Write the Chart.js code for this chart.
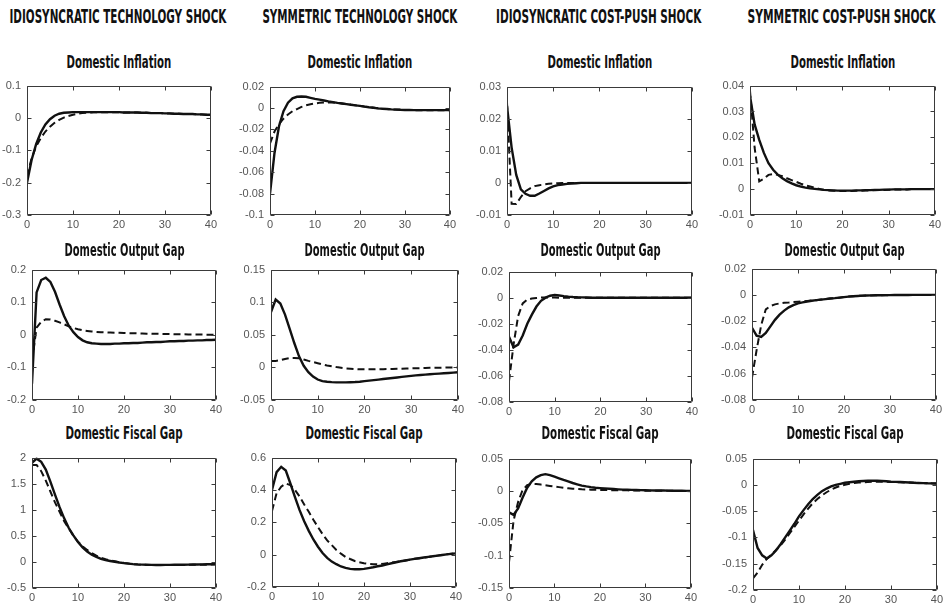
<!DOCTYPE html>
<html><head><meta charset="utf-8">
<script src="https://cdn.jsdelivr.net/npm/chart.js@4.4.1/dist/chart.umd.min.js"></script>
<style>
html,body{margin:0;padding:0;background:#fff;}
body{width:945px;height:606px;position:relative;overflow:hidden;}
.hdr,.ttl{position:absolute;white-space:nowrap;font-family:"DejaVu Sans Condensed","DejaVu Sans";font-weight:bold;color:#111;transform-origin:center center;line-height:1;}
.hdr{font-size:20px;}
.ttl{font-size:17px;}
.cv{position:absolute;}
</style></head><body>
<script>
// ---------- DATA ----------
const periods = [0,1,2,3,4,5,6,7,8,9,10,11,12,13,14,15,16,17,18,19,20,21,22,23,24,25,26,27,28,29,30,31,32,33,34,35,36,37,38,39,40];
const columnTitles = ['IDIOSYNCRATIC TECHNOLOGY SHOCK','SYMMETRIC TECHNOLOGY SHOCK','IDIOSYNCRATIC COST-PUSH SHOCK','SYMMETRIC COST-PUSH SHOCK'];
const rowTitles = ['Domestic Inflation','Domestic Output Gap','Domestic Fiscal Gap'];
const xTicks = [0,10,20,30,40];

// y tick labels per panel
const yTicksInflIdioTech = [-0.3,-0.2,-0.1,0,0.1];
const yTicksInflSymTech  = [-0.1,-0.08,-0.06,-0.04,-0.02,0,0.02];
const yTicksInflIdioCP   = [-0.01,0,0.01,0.02,0.03];
const yTicksInflSymCP    = [-0.01,0,0.01,0.02,0.03,0.04];
const yTicksGapIdioTech  = [-0.2,-0.1,0,0.1,0.2];
const yTicksGapSymTech   = [-0.05,0,0.05,0.1,0.15];
const yTicksGapIdioCP    = [-0.08,-0.06,-0.04,-0.02,0,0.02];
const yTicksGapSymCP     = [-0.08,-0.06,-0.04,-0.02,0,0.02];
const yTicksFisIdioTech  = [-0.5,0,0.5,1,1.5,2];
const yTicksFisSymTech   = [-0.2,0,0.2,0.4,0.6];
const yTicksFisIdioCP    = [-0.15,-0.1,-0.05,0,0.05];
const yTicksFisSymCP     = [-0.2,-0.15,-0.1,-0.05,0,0.05];

// Domestic inflation
const inflIdioTechSolid  = [-0.20,-0.13,-0.08,-0.045,-0.02,-0.004,0.007,0.013,0.016,0.017,0.018,0.018,0.018,0.018,0.018,0.018,0.018,0.018,0.018,0.018,0.018,0.017,0.017,0.017,0.017,0.016,0.016,0.015,0.015,0.015,0.014,0.014,0.013,0.013,0.012,0.012,0.012,0.011,0.011,0.010,0.010];
const inflIdioTechDashed = [-0.18,-0.125,-0.088,-0.062,-0.042,-0.027,-0.015,-0.006,0.001,0.006,0.010,0.013,0.015,0.016,0.017,0.018,0.018,0.018,0.018,0.018,0.018,0.017,0.017,0.017,0.017,0.016,0.016,0.015,0.015,0.015,0.014,0.014,0.013,0.013,0.012,0.012,0.012,0.011,0.011,0.010,0.010];
const inflSymTechSolid   = [-0.080,-0.042,-0.017,-0.003,0.005,0.009,0.0105,0.0108,0.0105,0.0095,0.0085,0.0078,0.007,0.0062,0.0055,0.0048,0.0042,0.0036,0.003,0.0025,0.002,0.0013,0.0007,0.0002,-0.0003,-0.0007,-0.001,-0.0013,-0.0015,-0.0017,-0.0018,-0.0019,-0.002,-0.002,-0.002,-0.002,-0.002,-0.002,-0.002,-0.002,-0.002];
const inflSymTechDashed  = [-0.033,-0.022,-0.015,-0.010,-0.006,-0.003,-0.001,0.001,0.0025,0.0035,0.0043,0.0048,0.0051,0.0052,0.0051,0.0048,0.0043,0.0037,0.0031,0.0025,0.002,0.0013,0.0007,0.0002,-0.0003,-0.0007,-0.001,-0.0013,-0.0015,-0.0017,-0.0018,-0.0019,-0.002,-0.002,-0.002,-0.002,-0.002,-0.002,-0.002,-0.002,-0.002];
const inflIdioCPSolid    = [0.024,0.011,0.0025,-0.002,-0.0034,-0.004,-0.004,-0.0033,-0.0025,-0.0017,-0.0011,-0.0007,-0.0005,-0.0003,-0.0002,-0.0001,0,0,0,0,0,0,0,0,0,0,0,0,0,0,0,0,0,0,0,0,0,0,0,0,0];
const inflIdioCPDashed   = [0.025,-0.0065,-0.0066,-0.0044,-0.0026,-0.0017,-0.001,-0.0007,-0.0005,-0.0003,-0.0002,-0.0001,0,0,0,0,0,0,0,0,0,0,0,0,0,0,0,0,0,0,0,0,0,0,0,0,0,0,0,0,0];
const inflSymCPSolid     = [0.036,0.025,0.019,0.014,0.010,0.0075,0.0056,0.0042,0.0031,0.0022,0.0015,0.001,0.0006,0.0003,0.0001,-0.0001,-0.0003,-0.0004,-0.0005,-0.0006,-0.0006,-0.0006,-0.0006,-0.0005,-0.0005,-0.0004,-0.0004,-0.0003,-0.0003,-0.0002,-0.0002,-0.0001,-0.0001,-0.0001,-0.0001,0,0,0,0,0,0];
const inflSymCPDashed    = [0.038,0.016,0.003,0.004,0.0055,0.0058,0.0055,0.005,0.0042,0.0035,0.0028,0.0021,0.0015,0.001,0.0005,0.0001,-0.0003,-0.0005,-0.0006,-0.0007,-0.0007,-0.0007,-0.0007,-0.0006,-0.0006,-0.0005,-0.0005,-0.0004,-0.0003,-0.0003,-0.0002,-0.0002,-0.0001,-0.0001,-0.0001,0,0,0,0,0,0];

// Domestic output gap
const gapIdioTechSolid   = [-0.15,0.13,0.168,0.175,0.162,0.132,0.093,0.057,0.028,0.008,-0.007,-0.017,-0.023,-0.026,-0.027,-0.028,-0.028,-0.028,-0.027,-0.027,-0.026,-0.026,-0.025,-0.025,-0.024,-0.023,-0.023,-0.022,-0.022,-0.021,-0.020,-0.020,-0.019,-0.019,-0.018,-0.018,-0.017,-0.017,-0.016,-0.016,-0.015];
const gapIdioTechDashed  = [-0.08,0.022,0.04,0.048,0.047,0.043,0.038,0.032,0.026,0.021,0.017,0.014,0.012,0.010,0.009,0.008,0.0075,0.007,0.0065,0.006,0.0055,0.005,0.0047,0.0043,0.004,0.0036,0.0033,0.003,0.0027,0.0024,0.0021,0.0018,0.0016,0.0014,0.0012,0.001,0.0008,0.0006,0.0004,0.0002,0.0];
const gapSymTechSolid    = [0.085,0.104,0.098,0.081,0.059,0.037,0.017,0.0025,-0.0073,-0.014,-0.0186,-0.021,-0.022,-0.0226,-0.023,-0.023,-0.023,-0.0228,-0.0225,-0.022,-0.021,-0.0203,-0.0195,-0.0187,-0.0178,-0.017,-0.0162,-0.0154,-0.0146,-0.0138,-0.013,-0.0123,-0.0117,-0.0111,-0.0105,-0.010,-0.0095,-0.009,-0.0085,-0.008,-0.0075];
const gapSymTechDashed   = [0.010,0.010,0.011,0.013,0.0145,0.0145,0.014,0.012,0.010,0.0082,0.0065,0.0047,0.003,0.0017,0.0005,-0.0005,-0.0015,-0.002,-0.0025,-0.0028,-0.003,-0.003,-0.003,-0.0028,-0.0027,-0.0025,-0.0023,-0.0021,-0.0019,-0.0017,-0.0015,-0.0013,-0.0011,-0.0009,-0.0007,-0.0005,-0.0004,-0.0003,-0.0002,-0.0001,0];
const gapIdioCPSolid     = [-0.030,-0.038,-0.036,-0.029,-0.020,-0.013,-0.0068,-0.0024,0.0,0.0015,0.002,0.0017,0.0012,0.0008,0.0005,0.0003,0.0002,0.0001,0,0,0,0,0,0,0,0,0,0,0,0,0,0,0,0,0,0,0,0,0,0,0];
const gapIdioCPDashed    = [-0.064,-0.036,-0.014,-0.0044,-0.0015,-0.0007,-0.0002,0.0001,0.0002,0.0002,0.0001,0,0,0,0,0,0,0,0,0,0,0,0,0,0,0,0,0,0,0,0,0,0,0,0,0,0,0,0,0,0];
const gapSymCPSolid      = [-0.025,-0.031,-0.032,-0.029,-0.024,-0.019,-0.015,-0.012,-0.0095,-0.0078,-0.0065,-0.0057,-0.005,-0.0045,-0.004,-0.0036,-0.0032,-0.0028,-0.0025,-0.0021,-0.0017,-0.0013,-0.001,-0.0008,-0.0006,-0.0005,-0.0004,-0.0003,-0.0003,-0.0002,-0.0002,-0.0001,-0.0001,-0.0001,-0.0001,0,0,0,0,0,0];
const gapSymCPDashed     = [-0.063,-0.042,-0.023,-0.011,-0.0085,-0.0072,-0.0065,-0.006,-0.0058,-0.0055,-0.0052,-0.0049,-0.0046,-0.0043,-0.004,-0.0036,-0.0032,-0.0028,-0.0025,-0.0021,-0.0017,-0.0013,-0.001,-0.0008,-0.0006,-0.0005,-0.0004,-0.0003,-0.0003,-0.0002,-0.0002,-0.0001,-0.0001,-0.0001,-0.0001,0,0,0,0,0,0];

// Domestic fiscal gap
const fisIdioTechSolid   = [1.90,1.98,1.92,1.77,1.54,1.29,1.05,0.835,0.65,0.51,0.38,0.28,0.20,0.14,0.097,0.06,0.035,0.018,0.003,-0.012,-0.024,-0.033,-0.042,-0.048,-0.052,-0.055,-0.057,-0.058,-0.058,-0.057,-0.056,-0.055,-0.054,-0.053,-0.052,-0.050,-0.049,-0.047,-0.046,-0.044,-0.042];
const fisIdioTechDashed  = [1.86,1.86,1.74,1.56,1.35,1.14,0.96,0.78,0.64,0.50,0.39,0.30,0.23,0.17,0.12,0.08,0.05,0.03,0.012,-0.006,-0.02,-0.032,-0.042,-0.049,-0.054,-0.057,-0.059,-0.06,-0.06,-0.06,-0.06,-0.059,-0.058,-0.057,-0.056,-0.055,-0.054,-0.053,-0.052,-0.051,-0.05];
const fisSymTechSolid    = [0.40,0.51,0.543,0.52,0.44,0.355,0.275,0.206,0.147,0.094,0.049,0.01,-0.02,-0.043,-0.059,-0.073,-0.082,-0.088,-0.09,-0.09,-0.088,-0.083,-0.078,-0.072,-0.067,-0.060,-0.053,-0.047,-0.041,-0.036,-0.031,-0.026,-0.022,-0.018,-0.014,-0.010,-0.006,-0.002,0.002,0.005,0.008];
const fisSymTechDashed   = [0.27,0.38,0.42,0.44,0.43,0.40,0.36,0.31,0.265,0.216,0.17,0.127,0.088,0.059,0.029,0.006,-0.014,-0.027,-0.039,-0.047,-0.053,-0.057,-0.059,-0.059,-0.057,-0.053,-0.049,-0.045,-0.041,-0.036,-0.031,-0.026,-0.022,-0.018,-0.014,-0.010,-0.006,-0.002,0.002,0.005,0.008];
const fisIdioCPSolid     = [-0.033,-0.037,-0.027,-0.010,0.005,0.015,0.021,0.0245,0.026,0.0245,0.022,0.0196,0.017,0.0147,0.0123,0.0103,0.0083,0.007,0.0059,0.005,0.0044,0.0039,0.0034,0.003,0.0025,0.002,0.0018,0.0016,0.0014,0.0012,0.001,0.0009,0.0008,0.0007,0.0006,0.0005,0.0004,0.0003,0.0002,0.0001,0];
const fisIdioCPDashed    = [-0.11,-0.046,-0.017,0.0015,0.009,0.011,0.0108,0.0098,0.0088,0.0078,0.0069,0.0059,0.0049,0.0041,0.0034,0.003,0.0025,0.0022,0.002,0.0017,0.0015,0.0014,0.0013,0.0012,0.0011,0.001,0.0009,0.0008,0.0007,0.0006,0.0005,0.0004,0.0004,0.0003,0.0003,0.0002,0.0002,0.0001,0.0001,0,0];
const fisSymCPSolid      = [-0.086,-0.12,-0.134,-0.14,-0.134,-0.125,-0.113,-0.100,-0.087,-0.074,-0.060,-0.048,-0.037,-0.027,-0.019,-0.012,-0.007,-0.003,0.0,0.002,0.004,0.005,0.006,0.007,0.0075,0.008,0.008,0.008,0.0075,0.007,0.006,0.0058,0.0054,0.005,0.0046,0.004,0.0037,0.0034,0.003,0.0028,0.0025];
const fisSymCPDashed     = [-0.178,-0.167,-0.152,-0.141,-0.133,-0.124,-0.115,-0.104,-0.092,-0.080,-0.068,-0.056,-0.045,-0.035,-0.027,-0.020,-0.014,-0.009,-0.005,-0.002,0.0,0.002,0.0035,0.0045,0.005,0.0055,0.0058,0.006,0.006,0.0058,0.0055,0.0052,0.005,0.0047,0.0044,0.004,0.0037,0.0034,0.0031,0.0028,0.0025];

// ---------- LAYOUT (plot-area rectangles in page pixels: left, top, right, bottom) ----------
const panels = [
  {row:0,col:0,rect:[27,79,211,215], yt:yTicksInflIdioTech, s:inflIdioTechSolid, d:inflIdioTechDashed},
  {row:0,col:1,rect:[270,80,450,215], yt:yTicksInflSymTech, s:inflSymTechSolid, d:inflSymTechDashed},
  {row:0,col:2,rect:[507,80,692,215], yt:yTicksInflIdioCP, s:inflIdioCPSolid, d:inflIdioCPDashed},
  {row:0,col:3,rect:[750,79,935,215], yt:yTicksInflSymCP, s:inflSymCPSolid, d:inflSymCPDashed},
  {row:1,col:0,rect:[32,263,216,400], yt:yTicksGapIdioTech, s:gapIdioTechSolid, d:gapIdioTechDashed},
  {row:1,col:1,rect:[271,263,458,400], yt:yTicksGapSymTech, s:gapSymTechSolid, d:gapSymTechDashed},
  {row:1,col:2,rect:[509,265,692,402], yt:yTicksGapIdioCP, s:gapIdioCPSolid, d:gapIdioCPDashed},
  {row:1,col:3,rect:[752,262,936,400], yt:yTicksGapSymCP, s:gapSymCPSolid, d:gapSymCPDashed},
  {row:2,col:0,rect:[32,451,216,588], yt:yTicksFisIdioTech, s:fisIdioTechSolid, d:fisIdioTechDashed},
  {row:2,col:1,rect:[272,451,456,587], yt:yTicksFisSymTech, s:fisSymTechSolid, d:fisSymTechDashed},
  {row:2,col:2,rect:[509,452,691,588], yt:yTicksFisIdioCP, s:fisIdioCPSolid, d:fisIdioCPDashed},
  {row:2,col:3,rect:[753,452,937,590], yt:yTicksFisSymCP, s:fisSymCPSolid, d:fisSymCPDashed}
];
const headerPos = [{cx:118,w:217},{cx:360,w:195},{cx:598,w:205},{cx:841,w:188}];
const titleY = [62,250,433];
const titleW = [105,120,117];

const AX_W = 45, AX_H = 22, PAD_T = 6, PAD_R = 9;

function fmt(v){ return String(parseFloat(v.toFixed(4))); }

function addText(cls, text, cx, cy, w){
  const el = document.createElement('div');
  el.className = cls; el.textContent = text;
  document.body.appendChild(el);
  const ow = el.offsetWidth, oh = el.offsetHeight;
  el.style.left = (cx - ow/2) + 'px';
  el.style.top = (cy - oh/2) + 'px';
  el.style.transform = 'scaleX(' + (w/ow) + ')';
}

columnTitles.forEach((t,i)=> addText('hdr', t, headerPos[i].cx, 16, headerPos[i].w));

const boxTicks = {
  id:'boxTicks',
  afterDatasetsDraw(chart){
    const {ctx, chartArea:a, scales:{x,y}} = chart;
    ctx.save();
    ctx.strokeStyle = '#3a3a3a'; ctx.lineWidth = 1;
    ctx.beginPath();
    const L = Math.round(a.left)+0.5, R = Math.round(a.right)-0.5, T = Math.round(a.top)+0.5, B = Math.round(a.bottom)-0.5;
    ctx.rect(L, T, R-L, B-T);
    x.ticks.forEach(t=>{ const p = Math.round(x.getPixelForValue(t.value))+0.5; ctx.moveTo(p,B); ctx.lineTo(p,B-4); ctx.moveTo(p,T); ctx.lineTo(p,T+4); });
    y.ticks.forEach(t=>{ const p = Math.round(y.getPixelForValue(t.value))+0.5; ctx.moveTo(L,p); ctx.lineTo(L+4,p); ctx.moveTo(R,p); ctx.lineTo(R-4,p); });
    ctx.stroke();
    ctx.restore();
  }
};

panels.forEach(p=>{
  const [l,t,r,b] = p.rect;
  const cw = (r-l) + AX_W + PAD_R, ch = (b-t) + PAD_T + AX_H;
  const cv = document.createElement('canvas');
  cv.className = 'cv'; cv.width = cw; cv.height = ch;
  cv.style.left = (l-AX_W)+'px'; cv.style.top = (t-PAD_T)+'px';
  cv.style.width = cw+'px'; cv.style.height = ch+'px';
  document.body.appendChild(cv);
  addText('ttl', rowTitles[p.row], (l+r)/2, titleY[p.row], titleW[p.row]);
  const yt = p.yt;
  new Chart(cv, {
    type:'line',
    data:{ datasets:[
      {data: periods.map((x,i)=>({x, y:p.s[i]})), borderColor:'#111', borderWidth:2.4, pointRadius:0, tension:0, fill:false},
      {data: periods.map((x,i)=>({x, y:p.d[i]})), borderColor:'#111', borderWidth:2, borderDash:[7,4], pointRadius:0, tension:0, fill:false}
    ]},
    options:{
      responsive:false, animation:false, devicePixelRatio:1,
      layout:{padding:{top:PAD_T, right:PAD_R, left:0, bottom:0}},
      plugins:{legend:{display:false}, tooltip:{enabled:false}, title:{display:false}},
      scales:{
        x:{type:'linear', min:xTicks[0], max:xTicks[xTicks.length-1],
           afterBuildTicks(s){ s.ticks = xTicks.map(v=>({value:v})); },
           afterFit(s){ s.height = AX_H; },
           grid:{display:false, drawTicks:false}, border:{display:false},
           ticks:{padding:3, color:'#555', font:{family:'Liberation Sans, Arial', size:11}, maxRotation:0, callback:v=>fmt(v)}},
        y:{type:'linear', min:yt[0], max:yt[yt.length-1],
           afterBuildTicks(s){ s.ticks = yt.map(v=>({value:v})); },
           afterFit(s){ s.width = AX_W; },
           grid:{display:false, drawTicks:false}, border:{display:false},
           ticks:{padding:6, color:'#555', font:{family:'Liberation Sans, Arial', size:11}, callback:v=>fmt(v)}}
      }
    },
    plugins:[boxTicks]
  });
});
</script>
</body></html>
